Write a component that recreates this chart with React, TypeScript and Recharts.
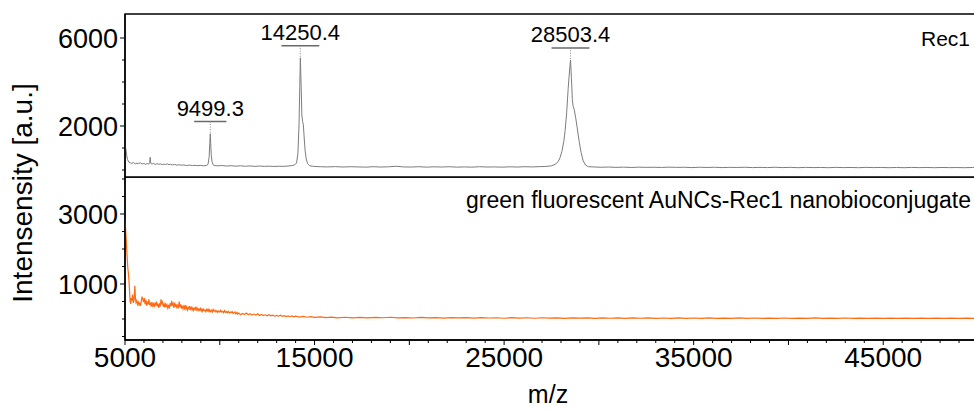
import React from 'react';
import { LineChart, Line, XAxis, YAxis, ReferenceArea, ReferenceLine } from 'recharts';

// ---- Rec1 spectrum (upper panel) ----
const rec1Mz = [
  5000, 5040, 5080, 5130, 5200, 5280, 5360, 5450, 5540, 5630, 5720, 5810, 5900, 5990, 6080, 6170, 6260, 6300, 6330, 6360,
  6420, 6510, 6600, 6690, 6780, 6870, 6960, 7050, 7140, 7230, 7320, 7410, 7500, 7620, 7740, 7860, 7980, 8100, 8250, 8400,
  8550, 8700, 8850, 9000, 9150, 9300, 9380, 9440, 9470, 9499.3, 9520, 9550, 9590, 9650, 9750, 9900, 10100, 10350, 10600, 10850,
  11100, 11350, 11600, 11850, 12100, 12350, 12600, 12850, 13100, 13350, 13600, 13800, 13950, 14050, 14120, 14180, 14220, 14250.4, 14290, 14330,
  14370, 14410, 14450, 14500, 14560, 14640, 14750, 14950, 15300, 15700, 16100, 16500, 16900, 17300, 17700, 18100, 18500, 18900, 19300, 19700,
  20100, 20500, 20900, 21300, 21700, 22100, 22500, 22900, 23300, 23700, 24100, 24500, 24900, 25300, 25700, 26100, 26500, 26900, 27200, 27500,
  27700, 27850, 27950, 28050, 28150, 28220, 28300, 28380, 28450, 28503.4, 28550, 28600, 28640, 28700, 28780, 28850, 28960, 29060, 29170, 29300,
  29450, 29700, 30100, 30500, 30900, 31300, 31700, 32100, 32500, 32900, 33300, 33700, 34100, 34500, 34900, 35300, 35700, 36100, 36500, 36900,
  37300, 37700, 38100, 38500, 38900, 39300, 39700, 40100, 40500, 40900, 41300, 41700, 42100, 42500, 42900, 43300, 43700, 44100, 44500, 44900,
  45300, 45700, 46100, 46500, 46900, 47300, 47700, 48100, 48500, 48900, 49300, 49700, 50000,
];
const rec1Intensity = [
  1150, 980, 720, 480, 360, 330, 300, 340, 280, 310, 290, 330, 270, 300, 260, 290, 270, 340, 580, 300,
  270, 300, 250, 290, 260, 280, 240, 270, 250, 280, 240, 260, 230, 250, 220, 240, 220, 230, 200, 225,
  200, 215, 195, 210, 190, 205, 260, 600, 1200, 1650, 1250, 700, 380, 240, 200, 190, 205, 180, 195, 175,
  190, 170, 185, 165, 180, 165, 175, 160, 170, 165, 180, 200, 230, 320, 750, 2000, 3800, 5100, 3900, 2500,
  2200, 2050, 1500, 900, 500, 280, 190, 165, 150, 140, 155, 135, 150, 140, 130, 150, 135, 145, 170, 140,
  135, 150, 130, 145, 135, 150, 130, 140, 130, 150, 135, 140, 130, 145, 135, 150, 140, 155, 160, 190,
  260, 380, 560, 850, 1300, 1800, 2600, 3700, 4500, 5000, 4200, 3200, 2900, 2750, 2350, 1950, 1300, 800, 420, 220,
  150, 140, 125, 135, 120, 130, 115, 130, 120, 125, 115, 130, 120, 125, 110, 125, 115, 125, 110, 120,
  115, 125, 110, 120, 110, 125, 110, 120, 105, 120, 110, 115, 105, 120, 110, 115, 105, 120, 110, 115,
  105, 115, 105, 118, 108, 115, 105, 115, 108, 112, 105, 115, 110,
];

// ---- AuNCs-Rec1 nanobioconjugate spectrum (lower panel) ----
const conjugateMz = [
  5000, 5030, 5060, 5090, 5120, 5150, 5180, 5210, 5240, 5270, 5300, 5330, 5360, 5400, 5440, 5480, 5520, 5550, 5580, 5620,
  5660, 5700, 5740, 5780, 5820, 5860, 5900, 5940, 5980, 6020, 6060, 6100, 6140, 6180, 6220, 6260, 6300, 6340, 6380, 6420,
  6460, 6500, 6540, 6580, 6620, 6660, 6700, 6740, 6780, 6820, 6860, 6900, 6940, 6980, 7020, 7060, 7100, 7140, 7180, 7220,
  7260, 7300, 7340, 7380, 7420, 7460, 7500, 7540, 7580, 7620, 7660, 7700, 7740, 7780, 7820, 7860, 7900, 7940, 7980, 8020,
  8060, 8100, 8140, 8180, 8220, 8260, 8300, 8340, 8380, 8420, 8460, 8500, 8540, 8580, 8620, 8660, 8700, 8740, 8780, 8820,
  8860, 8900, 8940, 8980, 9020, 9060, 9100, 9140, 9180, 9220, 9260, 9300, 9340, 9380, 9420, 9460, 9500, 9550, 9600, 9650,
  9700, 9750, 9800, 9850, 9900, 9950, 10000, 10050, 10100, 10150, 10200, 10250, 10300, 10350, 10400, 10450, 10500, 10550, 10600, 10650,
  10700, 10750, 10800, 10850, 10900, 10950, 11000, 11100, 11200, 11300, 11400, 11500, 11600, 11700, 11800, 11900, 12000, 12100, 12200, 12300,
  12400, 12500, 12600, 12700, 12800, 12900, 13000, 13100, 13200, 13300, 13400, 13500, 13600, 13700, 13800, 13900, 14000, 14200, 14400, 14600,
  14800, 15000, 15300, 15600, 15900, 16200, 16600, 17000, 17400, 17800, 18200, 18600, 19000, 19400, 19800, 20200, 20600, 21000, 21400, 21800,
  22200, 22600, 23000, 23400, 23800, 24200, 24600, 25000, 25400, 25800, 26200, 26600, 27000, 27400, 27800, 28200, 28600, 29000, 29400, 29800,
  30200, 30600, 31000, 31400, 31800, 32200, 32600, 33000, 33400, 33800, 34200, 34600, 35000, 35400, 35800, 36200, 36600, 37000, 37400, 37800,
  38200, 38600, 39000, 39400, 39800, 40200, 40600, 41000, 41400, 41800, 42200, 42600, 43000, 43400, 43800, 44200, 44600, 45000, 45400, 45800,
  46200, 46600, 47000, 47400, 47800, 48200, 48600, 49000, 49400, 49800, 50000,
];
const conjugateIntensity = [
  2830, 2600, 2300, 2000, 1700, 1450, 1300, 1100, 800, 500, 430, 600, 520, 700, 460, 550, 950, 600, 470, 520,
  420, 480, 400, 450, 380, 520, 640, 560, 480, 600, 420, 550, 380, 500, 420, 560, 400, 470, 350, 480,
  380, 430, 340, 470, 380, 500, 360, 440, 320, 420, 360, 560, 420, 480, 350, 420, 330, 450, 360, 400,
  310, 380, 330, 450, 360, 520, 380, 440, 320, 470, 350, 420, 300, 390, 340, 500, 330, 420, 300, 380,
  290, 360, 300, 400, 290, 350, 260, 330, 290, 370, 280, 330, 260, 320, 250, 310, 270, 350, 260, 300,
  240, 290, 250, 300, 230, 280, 220, 280, 240, 260, 210, 270, 230, 280, 220, 260, 210, 250, 200, 270,
  220, 250, 200, 240, 190, 230, 200, 250, 200, 220, 180, 240, 190, 210, 180, 220, 170, 200, 180, 210,
  160, 180, 200, 150, 190, 140, 170, 120, 160, 130, 170, 120, 150, 110, 140, 110, 150, 100, 130, 100,
  120, 90, 120, 90, 110, 80, 100, 80, 110, 75, 95, 70, 90, 65, 85, 60, 80, 55, 75, 50,
  65, 45, 60, 40, 55, 35, 50, 30, 45, 30, 45, 35, 50, 30, 42, 28, 45, 32, 40, 25,
  42, 30, 38, 25, 40, 28, 36, 22, 38, 26, 35, 22, 36, 25, 33, 20, 34, 24, 32, 20,
  30, 22, 34, 20, 30, 22, 32, 20, 28, 18, 30, 20, 28, 18, 30, 20, 26, 18, 30, 20,
  28, 18, 26, 18, 28, 16, 26, 18, 30, 16, 26, 18, 28, 16, 24, 16, 26, 18, 24, 15,
  25, 16, 24, 15, 25, 16, 24, 15, 24, 16, 20,
];

// ---- axes ----
const mzDomain = [5000, 50000];
const mzTicks = [
  5000, 6000, 7000, 8000, 9000, 10000, 11000, 12000, 13000, 14000, 15000, 16000, 17000, 18000, 19000, 20000,
  21000, 22000, 23000, 24000, 25000, 26000, 27000, 28000, 29000, 30000, 31000, 32000, 33000, 34000, 35000,
  36000, 37000, 38000, 39000, 40000, 41000, 42000, 43000, 44000, 45000, 46000, 47000, 48000, 49000,
];
const mzTickLabels = [5000, 15000, 25000, 35000, 45000];

const rec1Domain = [-318, 7091];
const rec1Ticks = [0, 1000, 2000, 3000, 4000, 5000, 6000];
const rec1TickLabels = [2000, 6000];

const conjugateDomain = [-600, 4057];
const conjugateTicks = [-500, 0, 500, 1000, 1500, 2000, 2500, 3000, 3500, 4000];
const conjugateTickLabels = [1000, 3000];

// labelled peaks of Rec1
const peakLabels = [9499.3, 14250.4, 28503.4];
const peakBarHalfWidth = [850, 1000, 1000];

const FONT = '"Liberation Sans", Arial, Helvetica, sans-serif';
const GRAY = '#7d7d7d';
const ORANGE = '#ff6a12';

const rec1Data = rec1Mz.map((mz, i) => ({ mz, intensity: rec1Intensity[i] }));
const conjugateData = conjugateMz.map((mz, i) => ({ mz, intensity: conjugateIntensity[i] }));

const makeYTick = (labels: number[]) => (props: any) => {
  const { x, y, payload } = props;
  const labelled = labels.includes(payload.value);
  return (
    <g>
      <line x1={x - (labelled ? 5 : 3)} x2={x} y1={y} y2={y} stroke="#000" strokeWidth={1} />
      {labelled && (
        <text x={x - 7} y={y} dy="0.36em" textAnchor="end" fontSize={27} fontFamily={FONT} fill="#000">
          {payload.value}
        </text>
      )}
    </g>
  );
};

const MzTick = (props: any) => {
  const { x, y, payload } = props;
  const v = payload.value;
  const labelled = mzTickLabels.includes(v);
  const major = v % 5000 === 0;
  return (
    <g>
      <line x1={x} x2={x} y1={y} y2={y + (major ? 5 : 3)} stroke="#000" strokeWidth={1} />
      {labelled && (
        <text x={x} y={y + 27} textAnchor="middle" fontSize={28} fontFamily={FONT} fill="#000">
          {v}
        </text>
      )}
    </g>
  );
};

const peakIntensity = (mz: number) => rec1Intensity[rec1Mz.indexOf(mz)];

export default function App() {
  return (
    <div
      style={{
        position: 'absolute',
        left: 0,
        top: 0,
        width: 974,
        height: 412,
        overflow: 'hidden',
        background: '#fff',
        fontFamily: FONT,
      }}
    >
      <div style={{ position: 'absolute', left: 0, top: 0 }}>
        <LineChart width={980} height={178} data={rec1Data} margin={{ top: 14, right: 2, bottom: 1, left: 0 }}>
          <XAxis dataKey="mz" type="number" domain={mzDomain} allowDataOverflow hide />
          <YAxis
            type="number"
            domain={rec1Domain}
            allowDataOverflow
            ticks={rec1Ticks}
            interval={0}
            width={125}
            tickSize={0}
            tickMargin={0}
            tickLine={false}
            axisLine={{ stroke: '#000', strokeWidth: 1.4 }}
            tick={makeYTick(rec1TickLabels)}
          />
          <ReferenceArea
            x1={mzDomain[0]}
            x2={mzDomain[1]}
            y1={rec1Domain[0]}
            y2={rec1Domain[1]}
            fill="none"
            fillOpacity={0}
            stroke="#000"
            strokeWidth={1.4}
          />
          <Line
            type="linear"
            dataKey="intensity"
            stroke={GRAY}
            strokeWidth={1}
            dot={false}
            isAnimationActive={false}
          />
          {peakLabels.map((mz, i) => {
            const top = peakIntensity(mz);
            const barY = top + 550;
            return (
              <ReferenceLine
                key={`bar-${mz}`}
                segment={[
                  { x: mz - peakBarHalfWidth[i], y: barY },
                  { x: mz + peakBarHalfWidth[i], y: barY },
                ]}
                stroke="#6a6a6a"
                strokeWidth={1.5}
                label={{ value: mz.toFixed(1), position: 'top', offset: 6, fill: '#000', fontSize: 22, fontFamily: FONT }}
              />
            );
          })}
          {peakLabels.map((mz) => {
            const top = peakIntensity(mz);
            return (
              <ReferenceLine
                key={`stem-${mz}`}
                segment={[
                  { x: mz, y: top + 550 },
                  { x: mz, y: top },
                ]}
                stroke="#8a8a8a"
                strokeWidth={1}
                strokeDasharray="1 1.5"
              />
            );
          })}
        </LineChart>
      </div>

      <div style={{ position: 'absolute', left: 0, top: 177 }}>
        <LineChart width={980} height={235} data={conjugateData} margin={{ top: 0, right: 2, bottom: 0, left: 0 }}>
          <XAxis
            dataKey="mz"
            type="number"
            domain={mzDomain}
            allowDataOverflow
            ticks={mzTicks}
            interval={0}
            height={72}
            tickSize={0}
            tickMargin={0}
            tickLine={false}
            axisLine={{ stroke: '#000', strokeWidth: 1.4 }}
            tick={<MzTick />}
          />
          <YAxis
            type="number"
            domain={conjugateDomain}
            allowDataOverflow
            ticks={conjugateTicks}
            interval={0}
            width={125}
            tickSize={0}
            tickMargin={0}
            tickLine={false}
            axisLine={{ stroke: '#000', strokeWidth: 1.4 }}
            tick={makeYTick(conjugateTickLabels)}
          />
          <ReferenceArea
            x1={mzDomain[0]}
            x2={mzDomain[1]}
            y1={conjugateDomain[0]}
            y2={conjugateDomain[1]}
            fill="none"
            fillOpacity={0}
            stroke="#000"
            strokeWidth={1.4}
          />
          <Line
            type="linear"
            dataKey="intensity"
            stroke={ORANGE}
            strokeWidth={1.2}
            dot={false}
            isAnimationActive={false}
          />
        </LineChart>
      </div>

      <svg
        width={974}
        height={412}
        style={{ position: 'absolute', left: 0, top: 0, pointerEvents: 'none' }}
      >
        <text
          x={22}
          y={193}
          transform="rotate(-90 22 193)"
          textAnchor="middle"
          dy="0.35em"
          fontSize={28}
          fontFamily={FONT}
          fill="#000"
        >
          Intensensity [a.u.]
        </text>
        <text x={970} y={46} textAnchor="end" fontSize={21} fontFamily={FONT} fill="#000">
          Rec1
        </text>
        <text x={971} y={208} textAnchor="end" fontSize={23} fontFamily={FONT} fill="#000">
          green fluorescent AuNCs-Rec1 nanobioconjugate
        </text>
        <text x={548} y={403} textAnchor="middle" fontSize={25} fontFamily={FONT} fill="#000">
          m/z
        </text>
      </svg>
    </div>
  );
}
